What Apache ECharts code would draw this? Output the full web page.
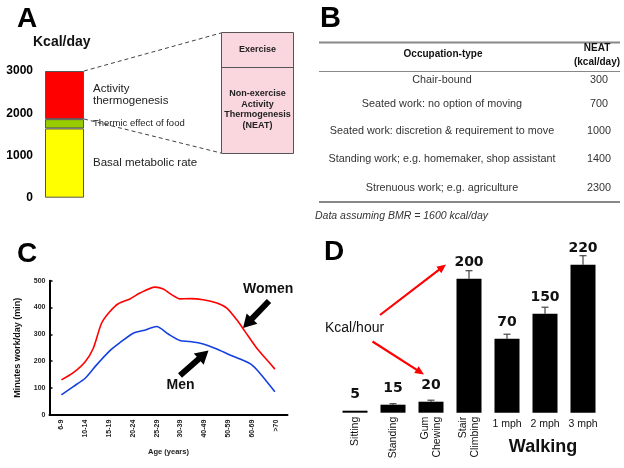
<!DOCTYPE html>
<html><head><meta charset="utf-8">
<script src="https://cdn.jsdelivr.net/npm/echarts@6/dist/echarts.min.js"></script>
<style>html,body{margin:0;padding:0;background:#fff}#c{width:624px;height:468px}</style>
</head><body><div id="c"></div>
<script>
// ---------- Panel A data ----------
const energyComponents = ['Basal metabolic rate', 'Thermic effect of food', 'Activity\nthermogenesis'];
const energyValues = [1640, 220, 1140];
const aTicks = [0, 1000, 2000, 3000];
// ---------- Panel B data ----------
const occupations = ['Chair-bound', 'Seated work: no option of moving', 'Seated work: discretion & requirement to move', 'Standing work; e.g. homemaker, shop assistant', 'Strenuous work; e.g. agriculture'];
const neatValues = [300, 700, 1000, 1400, 2300];
// ---------- Panel C data ----------
const ageGroups = ['6-9', '10-14', '15-19', '20-24', '25-29', '30-39', '40-49', '50-59', '60-69', '>70'];
const womenX = [0, 0.5, 1.0, 1.34, 1.69, 2.04, 2.39, 2.88, 3.30, 3.93, 4.28, 4.63, 4.98, 5.40, 5.96, 6.53, 6.95, 7.37, 7.72, 8.21, 8.63, 8.97];
const womenY = [130, 157, 198, 248, 342, 385, 414, 432, 454, 476, 469, 448, 432, 433, 429, 417, 398, 354, 310, 248, 205, 170];
const menX = [0, 0.5, 1.0, 1.48, 2.04, 2.46, 3.02, 3.44, 4.0, 4.49, 4.98, 5.40, 5.96, 6.53, 7.08, 7.58, 8.0, 8.34, 8.97];
const menY = [74, 105, 136, 186, 239, 269, 304, 314, 329, 301, 277, 273, 264, 245, 223, 205, 186, 155, 86];
// ---------- Panel D data ----------
const activities = ['Sitting', 'Standing', 'Gum\nChewing', 'Stair\nClimbing', '1 mph', '2 mph', '3 mph'];
const barHeights = [2, 8, 11, 134, 74, 99, 148];
const barErrors = [0, 1, 1.5, 8, 4.5, 6.5, 9];
const kcalLabels = ['5', '15', '20', '200', '70', '150', '220'];

const F = 'Arial, "Liberation Sans", sans-serif';
const chart = echarts.init(document.getElementById('c'), null, {renderer: 'canvas'});

function arrowPts(x1, y1, x2, y2, sw, hl, hw) {
  const L = Math.hypot(x2 - x1, y2 - y1), dx = (x2 - x1) / L, dy = (y2 - y1) / L;
  const nx = -dy, ny = dx, bx = x2 - dx * hl, by = y2 - dy * hl;
  return [[x1 + nx * sw / 2, y1 + ny * sw / 2], [bx + nx * sw / 2, by + ny * sw / 2], [bx + nx * hw / 2, by + ny * hw / 2], [x2, y2],
          [bx - nx * hw / 2, by - ny * hw / 2], [bx - nx * sw / 2, by - ny * sw / 2], [x1 - nx * sw / 2, y1 - ny * sw / 2]];
}
function txt(x, y, s, o) {
  return Object.assign({type: 'text', x: x, y: y, style: Object.assign({text: s, font: '11px ' + F, fill: '#222', textAlign: 'left', textVerticalAlign: 'middle'}, o || {})});
}

const graphics = [];
// Panel letters
graphics.push(txt(17, 19, 'A', {font: 'bold 28px ' + F, fill: '#000'}));
graphics.push(txt(320, 19, 'B', {font: 'bold 29px ' + F, fill: '#000'}));
graphics.push(txt(17, 254, 'C', {font: 'bold 28px ' + F, fill: '#000'}));
graphics.push(txt(324, 252, 'D', {font: 'bold 28px ' + F, fill: '#000'}));
// Panel A annotations
graphics.push(txt(33, 42, 'Kcal/day', {font: 'bold 14px ' + F, fill: '#111'}));
graphics.push({type: 'line', shape: {x1: 84, y1: 71, x2: 221, y2: 33}, style: {stroke: '#444', lineWidth: 1, lineDash: [4, 3]}});
graphics.push({type: 'line', shape: {x1: 84, y1: 119, x2: 221, y2: 153}, style: {stroke: '#444', lineWidth: 1, lineDash: [4, 3]}});
graphics.push({type: 'rect', shape: {x: 221.5, y: 32.5, width: 72, height: 121}, style: {fill: '#fad6de', stroke: '#555', lineWidth: 1}});
graphics.push({type: 'line', shape: {x1: 221.5, y1: 67.5, x2: 293.5, y2: 67.5}, style: {stroke: '#555', lineWidth: 1}});
graphics.push(txt(257.5, 50, 'Exercise', {font: 'bold 9px ' + F, textAlign: 'center'}));
graphics.push(txt(257.5, 109.5, 'Non-exercise\nActivity\nThermogenesis\n(NEAT)', {font: 'bold 9px ' + F, textAlign: 'center', lineHeight: 10.6}));
// Panel B table
graphics.push({type: 'line', shape: {x1: 319, y1: 42.5, x2: 620, y2: 42.5}, style: {stroke: '#888', lineWidth: 2}});
graphics.push({type: 'line', shape: {x1: 319, y1: 71.5, x2: 620, y2: 71.5}, style: {stroke: '#888', lineWidth: 1}});
graphics.push({type: 'line', shape: {x1: 319, y1: 202, x2: 620, y2: 202}, style: {stroke: '#888', lineWidth: 2}});
graphics.push(txt(443, 54, 'Occupation-type', {font: 'bold 10px ' + F, textAlign: 'center', fill: '#111'}));
graphics.push(txt(597, 55.5, 'NEAT\n(kcal/day)', {font: 'bold 10px ' + F, textAlign: 'center', fill: '#111', lineHeight: 14}));
const rowY = [80, 104, 131, 159.5, 188];
occupations.forEach((o, i) => {
  graphics.push(txt(442, rowY[i], o, {font: '10.8px ' + F, textAlign: 'center', fill: '#333'}));
  graphics.push(txt(599, rowY[i], String(neatValues[i]), {font: '10.8px ' + F, textAlign: 'center', fill: '#333'}));
});
graphics.push(txt(315, 216, 'Data assuming BMR = 1600 kcal/day', {font: 'italic 10.5px ' + F, fill: '#333'}));
// Panel C annotations
graphics.push(txt(243, 289.5, 'Women', {font: 'bold 14px ' + F, fill: '#111'}));
graphics.push(txt(166.5, 385, 'Men', {font: 'bold 14px ' + F, fill: '#111'}));
graphics.push({type: 'polygon', shape: {points: arrowPts(269, 301, 243, 328, 6, 13, 15)}, style: {fill: '#000'}});
graphics.push({type: 'polygon', shape: {points: arrowPts(180, 375.5, 208.5, 350.5, 6, 13, 15)}, style: {fill: '#000'}});
// Panel D annotations
graphics.push(txt(325, 328, 'Kcal/hour', {font: '14px ' + F, fill: '#111'}));
graphics.push({type: 'polygon', shape: {points: arrowPts(380, 315, 446, 264.5, 2.2, 9, 8)}, style: {fill: '#ff0000'}});
graphics.push({type: 'polygon', shape: {points: arrowPts(372.5, 341.5, 424, 374.5, 2.2, 9, 8)}, style: {fill: '#ff0000'}});
graphics.push(txt(543, 447, 'Walking', {font: 'bold 18px ' + F, textAlign: 'center', fill: '#111'}));

const aColors = ['#ffff00', '#99cc00', '#ff0000'];
const aLabelFont = [11.5, 9.5, 11.5];

const option = {
  animation: false,
  backgroundColor: '#fff',
  grid: [
    {left: 45, top: 71, width: 39, height: 126.7},
    {left: 49.5, top: 280.7, width: 238, height: 134},
    {left: 336, top: 252.7, width: 266, height: 160}
  ],
  xAxis: [
    {type: 'category', gridIndex: 0, data: ['Energy'], show: false},
    {type: 'category', gridIndex: 1, data: ageGroups, boundaryGap: true,
      axisLine: {onZero: false, lineStyle: {color: '#000', width: 2}},
      axisTick: {inside: true, length: 3, lineStyle: {color: '#000', width: 1.5}},
      axisLabel: {interval: 0, rotate: 90, fontSize: 7, fontWeight: 'bold', color: '#222', fontFamily: F, margin: 5},
      name: 'Age (years)', nameLocation: 'middle', nameGap: 33,
      nameTextStyle: {fontSize: 7.5, fontWeight: 'bold', color: '#222', fontFamily: F}},
    {type: 'value', gridIndex: 1, min: -0.5, max: 9.5, show: false, axisLine: {onZero: false}},
    {type: 'category', gridIndex: 2, data: activities, position: 'bottom',
      axisLine: {show: false}, axisTick: {show: false},
      axisLabel: {interval: 0, rotate: 90, fontSize: 10.5, color: '#111', fontFamily: F, margin: 4, lineHeight: 11.5,
        formatter: (v, i) => i < 4 ? v : ''}},
    {type: 'category', gridIndex: 2, data: activities, position: 'bottom',
      axisLine: {show: false}, axisTick: {show: false},
      axisLabel: {interval: 0, fontSize: 10.5, color: '#111', fontFamily: F, margin: 6,
        formatter: (v, i) => i >= 4 ? v : ''}}
  ],
  yAxis: [
    {type: 'value', gridIndex: 0, min: 0, max: 3000, interval: 1000,
      axisLine: {show: false}, axisTick: {show: false}, splitLine: {show: false},
      axisLabel: {fontSize: 12, fontWeight: 'bold', color: '#000', fontFamily: F, margin: 12,
        formatter: v => aTicks.indexOf(v) >= 0 ? String(v) : ''}},
    {type: 'value', gridIndex: 1, min: 0, max: 500, interval: 100,
      axisLine: {show: true, onZero: false, lineStyle: {color: '#000', width: 2}},
      axisTick: {show: true, inside: true, length: 3, lineStyle: {color: '#000', width: 1.5}},
      splitLine: {show: false},
      axisLabel: {fontSize: 7, fontWeight: 'bold', color: '#222', fontFamily: F, margin: 4},
      name: 'Minutes work/day (min)', nameLocation: 'middle', nameGap: 27, nameRotate: 90,
      nameTextStyle: {fontSize: 9, fontWeight: 'bold', color: '#111', fontFamily: F}},
    {type: 'value', gridIndex: 2, min: 0, max: 160, show: false}
  ],
  series: [
    ...energyComponents.map((name, i) => ({
      type: 'bar', name: name, stack: 'energy', xAxisIndex: 0, yAxisIndex: 0, barWidth: '100%',
      data: [energyValues[i]],
      itemStyle: {color: aColors[i], borderColor: '#555', borderWidth: 1},
      label: {show: true, position: 'right', distance: 9, formatter: name, color: '#222',
        fontSize: aLabelFont[i], fontFamily: F, lineHeight: 12.5}
    })),
    {type: 'line', name: 'Women', xAxisIndex: 2, yAxisIndex: 1, showSymbol: false, smooth: 0.25,
      data: womenX.map((x, i) => [x, womenY[i]]), lineStyle: {color: '#ff0000', width: 1.6}},
    {type: 'line', name: 'Men', xAxisIndex: 2, yAxisIndex: 1, showSymbol: false, smooth: 0.25,
      data: menX.map((x, i) => [x, menY[i]]), lineStyle: {color: '#1540e0', width: 1.6}},
    {type: 'bar', name: 'Kcal/hour', xAxisIndex: 3, yAxisIndex: 2, barWidth: 25, data: barHeights,
      itemStyle: {color: '#000'},
      label: {show: true, position: 'top', distance: 9, formatter: p => kcalLabels[p.dataIndex],
        fontSize: 14, fontWeight: 'bold', fontFamily: '"DejaVu Sans", sans-serif', color: '#111'}},
    {type: 'custom', name: 'err', xAxisIndex: 3, yAxisIndex: 2, z: 1,
      data: barHeights.map((h, i) => [i, h, barErrors[i]]),
      renderItem: function (params, api) {
        const i = api.value(0), h = api.value(1), e = api.value(2);
        if (!e) return null;
        const p0 = api.coord([i, h]), p1 = api.coord([i, h + e]);
        return {type: 'group', children: [
          {type: 'line', shape: {x1: p0[0], y1: p0[1], x2: p1[0], y2: p1[1]}, style: {stroke: '#444', lineWidth: 1.2}},
          {type: 'line', shape: {x1: p1[0] - 3.5, y1: p1[1], x2: p1[0] + 3.5, y2: p1[1]}, style: {stroke: '#444', lineWidth: 1.2}}
        ]};
      }}
  ],
  graphic: graphics
};
chart.setOption(option);
</script>
</body></html>
